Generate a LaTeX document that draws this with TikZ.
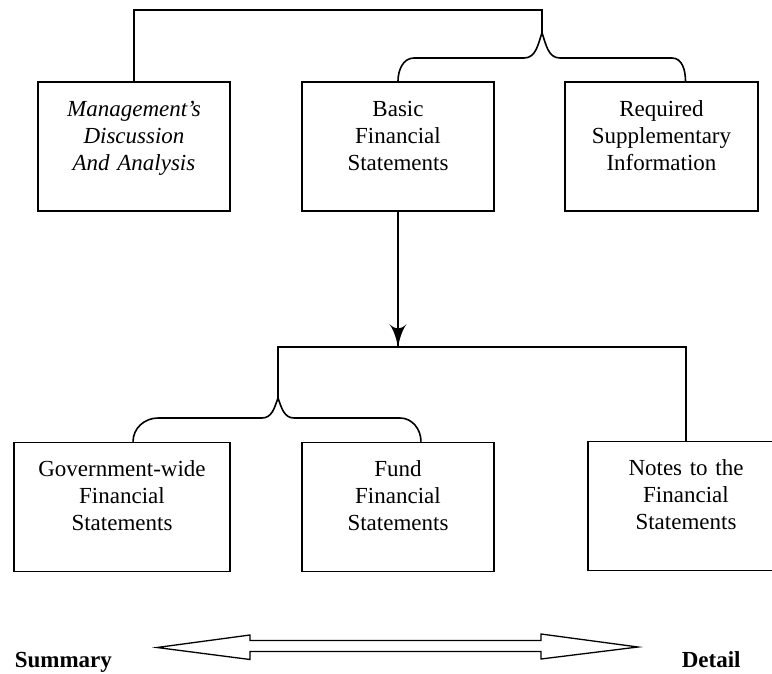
\documentclass[tikz,border=0pt]{standalone}
\usepackage{fontspec}
\setmainfont{Liberation Serif}
\usepackage{tikz}
\usetikzlibrary{arrows}
\usetikzlibrary{decorations.markings}
\tikzset{flow/.style = {decoration={markings,
                                    mark=at position 1 with {\arrow[scale=3]{latex'}}},
                        postaction={decorate}}}
\tikzset{fsbox/.style = {draw, rectangle, inner sep = 0, align = center,
                         text width = #1, text height = 34pt, text depth = 95pt,
                         font = \fontsize{23}{27}\selectfont}}
\tikzset{fsbox/.default = 192pt}
\tikzset{scaleend/.style = {inner sep = 0, anchor = base west,
                            font = \fontsize{23}{27}\selectfont\bfseries}}

\begin{document}
\begin{tikzpicture}[x=1pt, y=-1pt, line width=1.6pt]
    \useasboundingbox (0,0) rectangle (772,673);
    \clip (0,0) rectangle (772,673);

    \node [fsbox] (mda) at (134, 146.5) {\itshape Management's\\Discussion\\And Analysis};
    \node [fsbox] (bfs) at (398, 146.5) {Basic\\Financial\\Statements};
    \node [fsbox=193pt] (rsi) at (661.5, 146.5) {Required\\Supplementary\\Information};

    \node [fsbox=216pt] (gov) at (122, 507) {Government-wide\\Financial\\Statements};
    \node [fsbox] (fund) at (398, 507) {Fund\\Financial\\Statements};
    \node [fsbox=196pt] (notes) at (686, 506) {Notes to the\\Financial\\Statements};

    \coordinate (uptop) at (542, 10);
    \coordinate (upfork) at (542, 33);
    \coordinate (lowtop) at (278, 347);
    \coordinate (lowfork) at (278, 398);

    \draw (mda.north) |- (uptop) -- (upfork);
    \draw (upfork) to[out=-110, in=0] (524, 58) -- (414, 58) to[out=180, in=90] (bfs.north);
    \draw (upfork) to[out=-70, in=180] (560, 58) -- (672, 58)
          to[out=0, in=90] ([xshift=24]rsi.north);

    \draw [flow] (bfs.south) -- (bfs.south |- lowtop);
    \draw (lowfork) -- (lowtop) -| (notes.north);
    \draw (lowfork) to[out=-110, in=0] (262, 418) -- (158, 418)
          to[out=180, in=90] ([xshift=11]gov.north);
    \draw (lowfork) to[out=-70, in=180] (294, 418) -- (400, 418)
          to[out=0, in=90] ([xshift=23]fund.north);

    \draw [line width=1.3pt] (157, 647.5) -- (250, 635) -- (250, 640.5) -- (541, 640.5)
          -- (541, 634) -- (638, 647) -- (541, 659) -- (541, 651.5) -- (250, 651.5)
          -- (250, 659.5) -- cycle;

    \node [scaleend] (summary) at (14, 667) {Summary};
    \node [scaleend] (detail) at (681, 667.5) {Detail};
\end{tikzpicture}
\end{document}
